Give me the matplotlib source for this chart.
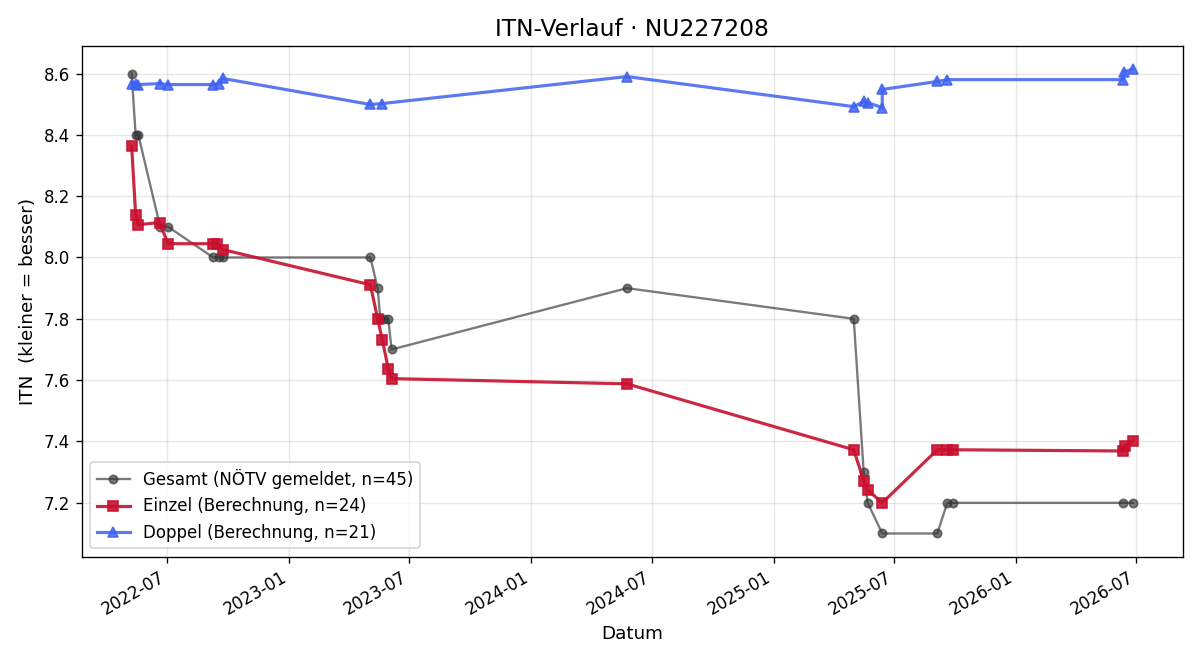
import matplotlib
matplotlib.use("Agg")
import matplotlib.pyplot as plt
import pandas as pd

# Gesamt (NÖTV gemeldet)
ges_dates = ["2022-05-08", "2022-05-14", "2022-05-18", "2022-06-20", "2022-07-02",
             "2022-09-08", "2022-09-16", "2022-09-22", "2023-05-03", "2023-05-14",
             "2023-05-18", "2023-05-24", "2023-05-30", "2023-06-04", "2024-05-24",
             "2025-05-01", "2025-05-16", "2025-05-22", "2025-06-13", "2025-09-04",
             "2025-09-19", "2025-09-27", "2026-06-11", "2026-06-26"]
ges_itn = [8.6, 8.4, 8.4, 8.1, 8.1,
           8.0, 8.0, 8.0, 8.0, 7.9,
           7.8, 7.8, 7.8, 7.7, 7.9,
           7.8, 7.3, 7.2, 7.1, 7.1,
           7.2, 7.2, 7.2, 7.2]

# Einzel (Berechnung)
ein_dates = ["2022-05-08", "2022-05-14", "2022-05-18", "2022-06-19", "2022-07-02",
             "2022-09-08", "2022-09-14", "2022-09-22", "2023-05-03", "2023-05-14",
             "2023-05-21", "2023-05-30", "2023-06-04", "2024-05-24", "2025-05-01",
             "2025-05-16", "2025-05-22", "2025-06-13", "2025-09-04", "2025-09-19",
             "2025-09-27", "2026-06-11", "2026-06-14", "2026-06-26"]
ein_itn = [8.362, 8.14, 8.107, 8.114, 8.045,
           8.045, 8.045, 8.026, 7.911, 7.80,
           7.732, 7.637, 7.605, 7.588, 7.373,
           7.272, 7.242, 7.20, 7.373, 7.373,
           7.373, 7.369, 7.385, 7.402]

# Doppel (Berechnung)
dop_dates = ["2022-05-08", "2022-05-14", "2022-05-18", "2022-06-19", "2022-07-02",
             "2022-09-08", "2022-09-16", "2022-09-22", "2023-05-03", "2023-05-21",
             "2024-05-24", "2025-05-01", "2025-05-16", "2025-05-22", "2025-06-13",
             "2025-06-13", "2025-09-04", "2025-09-19", "2026-06-11", "2026-06-13",
             "2026-06-26"]
dop_itn = [8.567, 8.567, 8.564, 8.567, 8.564,
           8.564, 8.567, 8.584, 8.499, 8.502,
           8.59, 8.492, 8.509, 8.505, 8.489,
           8.548, 8.574, 8.58, 8.58, 8.605,
           8.615]

fig, ax = plt.subplots(figsize=(10, 5.5), dpi=120)

ax.plot(pd.to_datetime(ges_dates), ges_itn, marker="o", markersize=5, lw=1.4,
        color="#333333", alpha=0.65, label="Gesamt (NÖTV gemeldet, n=45)")
ax.plot(pd.to_datetime(ein_dates), ein_itn, marker="s", markersize=6, lw=1.9,
        color="#c8102e", alpha=0.9, label="Einzel (Berechnung, n=24)")
ax.plot(pd.to_datetime(dop_dates), dop_itn, marker="^", markersize=6, lw=1.9,
        color="#3f62f0", alpha=0.85, label="Doppel (Berechnung, n=21)")

ax.set_title("ITN-Verlauf · NU227208", fontsize=14)
ax.set_xlabel("Datum", fontsize=11)
ax.set_ylabel("ITN  (kleiner = besser)", fontsize=11)
ax.grid(True, alpha=0.3)
ax.legend(loc="lower left", fontsize=10)
fig.autofmt_xdate()
fig.subplots_adjust(left=0.068, right=0.9858, top=0.9308, bottom=0.1565)
fig.savefig("out.png")
